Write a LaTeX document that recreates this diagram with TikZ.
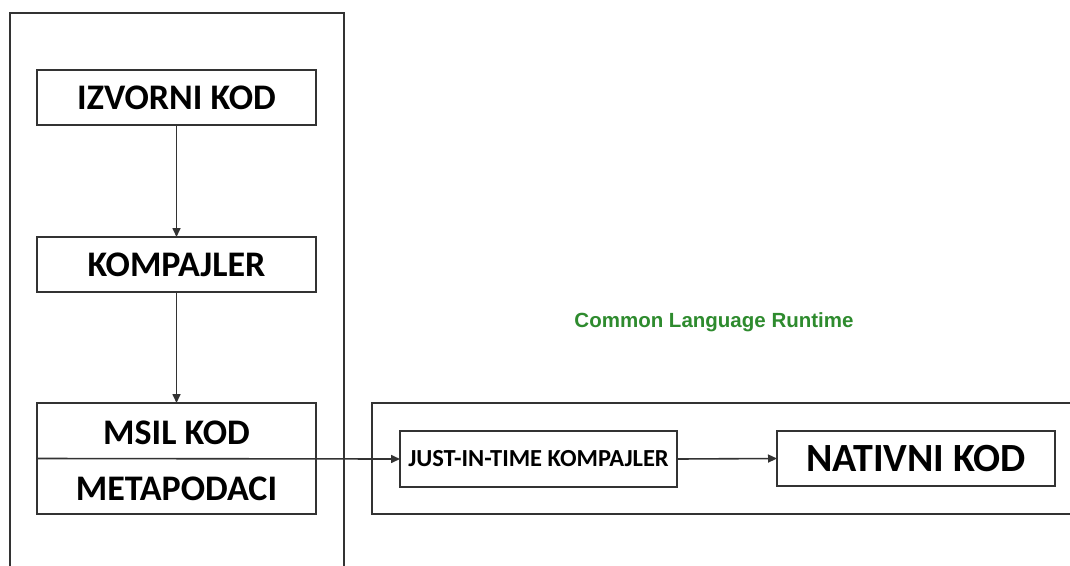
\documentclass[tikz,border=0pt]{standalone}
\usepackage{fontspec}
\setmainfont{Carlito}
\newfontfamily\arialf{Liberation Sans}
\usetikzlibrary{arrows.meta}
\definecolor{linec}{HTML}{333333}
\definecolor{clrgreen}{HTML}{2E8B2E}
\begin{document}
\begin{tikzpicture}[x=1pt,y=-1pt,
  line width=1.6pt,
  frame/.style={draw=linec, line width=1.6pt, inner sep=0pt, outer sep=0pt},
  stepbox/.style={frame, minimum width=279pt, minimum height=55pt, font=\fontsize{36}{36}\selectfont\bfseries},
  lbl/.style={inner sep=0pt, font=\fontsize{36}{36}\selectfont\bfseries},
  conn/.style={draw=linec, line width=1.6pt, -{Triangle[length=9pt,width=8pt]}}]
\useasboundingbox (0,0) rectangle (1070,565);
\clip (0,0) rectangle (1070,565);
\fill[white] (0,0) rectangle (1070,565);
% containers
\node[frame, anchor=north west, minimum width=334pt, minimum height=620pt] (host) at (10,13) {};
\node[frame, anchor=north west, minimum width=760pt, minimum height=111pt] (clr) at (372,403) {};
% left column
\node[stepbox] (izv) at (176.5,97.5) {IZVORNI KOD};
\node[stepbox] (komp) at (176.5,264.5) {KOMPAJLER};
\node[frame, minimum width=279pt, minimum height=111pt] (msil) at (176.5,458.5) {};
\node[lbl] (msiltxt) at (176.5,433) {MSIL KOD};
\node[lbl] (meta) at (176.5,489) {METAPODACI};
% right side
\node[frame, minimum width=277pt, minimum height=56pt, font=\fontsize{24.5}{25}\selectfont\bfseries] (jit) at (538.5,459) {JUST-IN-TIME KOMPAJLER};
\node[frame, minimum width=278pt, minimum height=55pt, font=\fontsize{40}{40}\selectfont\bfseries] (nat) at (916,458.5) {NATIVNI KOD};
\node[inner sep=0pt, text=clrgreen, font=\arialf\fontsize{20.5}{21}\selectfont\bfseries] (clrlbl) at (714,322) {Common Language Runtime};
% connectors
\draw[conn] (izv.south) -- (komp.north);
\draw[conn] (komp.south) -- (msil.north);
\draw[conn] (msil.west) -- (jit.west);
\draw[conn] (jit.east) -- (nat.west);
\end{tikzpicture}
\end{document}
